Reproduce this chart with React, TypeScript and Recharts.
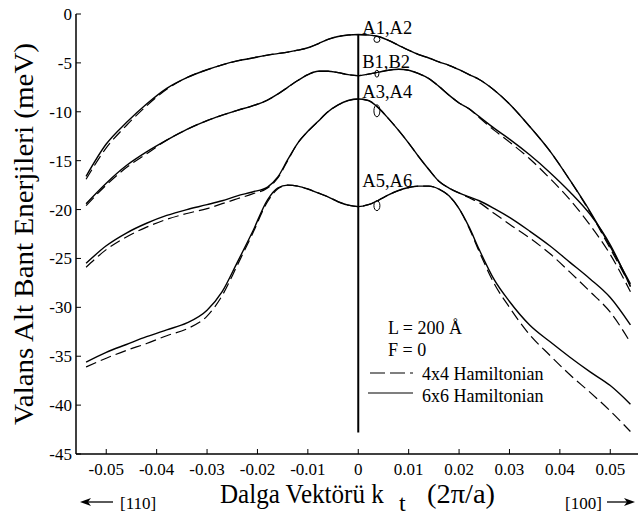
import React from 'react';
import { LineChart, Line, XAxis, YAxis, ReferenceLine, ReferenceDot, Legend } from 'recharts';

const FONT = '"Liberation Serif", "Times New Roman", serif';

// wave vector k_t (2π/a)
const kValues = [-0.054, -0.05, -0.046, -0.042, -0.038, -0.034, -0.03, -0.027, -0.024, -0.021, -0.018, -0.016, -0.014, -0.012, -0.01, -0.008, -0.006, -0.004, -0.002, 0, 0.002, 0.004, 0.006, 0.008, 0.01, 0.012, 0.014, 0.016, 0.018, 0.02, 0.022, 0.024, 0.027, 0.03, 0.034, 0.038, 0.042, 0.046, 0.05, 0.054];

// valence subband energies (meV)
const a12_6x6 = [-16.6, -13.3, -11.1, -9.2, -7.6, -6.5, -5.7, -5.2, -4.8, -4.5, -4.2, -4.05, -3.9, -3.7, -3.45, -3.05, -2.6, -2.3, -2.15, -2.1, -2.15, -2.3, -2.7, -3.2, -3.7, -4.15, -4.5, -4.9, -5.25, -5.7, -6.2, -6.7, -7.8, -9.2, -11.5, -14.0, -17.0, -20.2, -23.8, -27.6];
const a12_4x4 = [-16.9, -13.7, -11.4, -9.4, -7.7, -6.5, -5.7, -5.2, -4.8, -4.5, -4.2, -4.05, -3.9, -3.7, -3.45, -3.05, -2.6, -2.3, -2.15, -2.1, -2.15, -2.3, -2.7, -3.2, -3.7, -4.15, -4.5, -4.9, -5.25, -5.7, -6.2, -6.7, -7.8, -9.2, -11.5, -14.0, -17.0, -20.3, -24.0, -27.8];
const b12_6x6 = [-19.4, -17.3, -15.5, -14.1, -12.9, -11.8, -10.9, -10.35, -9.85, -9.4, -8.8, -8.2, -7.5, -6.8, -6.2, -5.85, -5.85, -6.0, -6.2, -6.3, -6.15, -5.95, -5.75, -5.65, -5.75, -6.1, -6.6, -7.4, -8.3, -9.1, -9.7, -10.5, -11.7, -12.8, -14.4, -16.2, -18.2, -20.5, -23.6, -27.9];
const b12_4x4 = [-19.6, -17.5, -15.7, -14.3, -12.9, -11.8, -10.9, -10.35, -9.85, -9.4, -8.8, -8.2, -7.5, -6.8, -6.2, -5.85, -5.85, -6.0, -6.2, -6.3, -6.15, -5.95, -5.75, -5.65, -5.75, -6.1, -6.6, -7.4, -8.3, -9.1, -9.7, -10.6, -11.9, -13.1, -14.8, -16.8, -19.0, -21.6, -24.6, -28.4];
const a34_6x6 = [-25.5, -23.7, -22.4, -21.4, -20.6, -20.0, -19.5, -19.1, -18.6, -18.2, -17.7, -16.7, -14.9, -13.2, -12.0, -11.0, -10.0, -9.3, -8.85, -8.7, -8.85, -9.6, -10.7, -11.9, -13.2, -14.6, -15.9, -17.1, -17.8, -18.3, -18.7, -19.1, -19.9, -20.8, -22.2, -23.7, -25.4, -27.1, -29.0, -31.8];
const a34_4x4 = [-25.9, -24.1, -22.8, -21.8, -21.0, -20.4, -19.9, -19.4, -18.9, -18.4, -17.8, -16.8, -15.0, -13.2, -12.0, -11.0, -10.0, -9.3, -8.85, -8.7, -8.85, -9.6, -10.7, -11.9, -13.2, -14.6, -15.9, -17.1, -17.8, -18.3, -18.8, -19.3, -20.4, -21.5, -22.9, -24.5, -26.4, -28.4, -30.5, -33.6];
const a56_6x6 = [-35.6, -34.6, -33.8, -33.0, -32.3, -31.6, -30.3, -28.4, -25.4, -22.3, -19.0, -17.8, -17.5, -17.6, -17.9, -18.3, -18.7, -19.2, -19.55, -19.7, -19.5, -19.05, -18.5, -18.05, -17.75, -17.6, -17.6, -17.9, -18.6, -19.9, -21.8, -24.1, -27.2, -29.4, -31.8, -33.5, -35.1, -36.6, -38.0, -39.9];
const a56_4x4 = [-36.1, -35.2, -34.4, -33.7, -32.9, -32.2, -30.9, -28.8, -25.7, -22.5, -19.2, -17.9, -17.5, -17.6, -17.9, -18.3, -18.7, -19.2, -19.55, -19.7, -19.5, -19.05, -18.5, -18.05, -17.75, -17.6, -17.6, -17.9, -18.6, -19.9, -21.9, -24.3, -27.6, -30.0, -32.8, -34.9, -36.9, -38.7, -40.6, -42.7];

const xTicks = [-0.05, -0.04, -0.03, -0.02, -0.01, 0, 0.01, 0.02, 0.03, 0.04, 0.05];
const yTicks = [0, -5, -10, -15, -20, -25, -30, -35, -40, -45];

// band labels and the small "0" marks beside them
const bandLabels = ['A1,A2', 'B1,B2', 'A3,A4', 'A5,A6'];
const labelK = 0.0008;
const labelE = [-2.05, -5.5, -8.6, -17.7];
const markK = 0.0037;
const markE = [-2.6, -6.1, -9.9, -19.6];
const markRy = [3, 3.5, 6, 5];
const markRx = [3, 2, 3, 3];

// the vertical line at k = 0
const zeroLine = [-2.1, -42.8];

const legendLines = ['L = 200 Å', 'F = 0', '4x4 Hamiltonian', '6x6 Hamiltonian'];

const data = kValues.map((k, i) => ({
  k,
  a12s: a12_6x6[i], a12d: a12_4x4[i],
  b12s: b12_6x6[i], b12d: b12_4x4[i],
  a34s: a34_6x6[i], a34d: a34_4x4[i],
  a56s: a56_6x6[i], a56d: a56_4x4[i],
}));

const solidKeys = ['a12s', 'b12s', 'a34s', 'a56s'];
const dashedKeys = ['a12d', 'b12d', 'a34d', 'a56d'];

const YLabel = (props: any) => {
  const cx = 33;
  const vb = props.viewBox || { y: 14, height: 440 };
  const cy = vb.y + vb.height / 2;
  return (
    <text x={cx} y={cy} transform={`rotate(-90 ${cx} ${cy})`} textAnchor="middle"
      fontFamily={FONT} fontSize={28} fill="#000" textLength={382} lengthAdjust="spacingAndGlyphs">
      Valans Alt Bant Enerjileri (meV)
    </text>
  );
};

const XLabel = (props: any) => {
  const vb = props.viewBox || { x: 76, y: 454, width: 562, height: 64 };
  const left = vb.x;
  const right = vb.x + vb.width;
  const sx = left + 144;
  const sc = 0.895;
  return (
    <g>
      <text x={sx} y={503} transform={`matrix(${sc} 0 0 1 ${sx * (1 - sc)} 0)`}
        fontFamily={FONT} fontSize={28} fill="#000">Dalga Vektörü k</text>
      <text x={left + 323} y={511} fontFamily={FONT} fontSize={24} fill="#000">t</text>
      <text x={left + 351} y={503} fontFamily={FONT} fontSize={28} fill="#000"
        textLength={68} lengthAdjust="spacingAndGlyphs">(2π/a)</text>
      <line x1={left + 8} y1={502} x2={left + 37} y2={502} stroke="#000" strokeWidth={1.3} />
      <path d={`M${left + 4},502 L${left + 15},498 L${left + 12},502 L${left + 15},506 Z`} fill="#000" />
      <text x={left + 44} y={509} fontFamily={FONT} fontSize={17} fill="#000">[110]</text>
      <text x={right - 73} y={509} fontFamily={FONT} fontSize={17} fill="#000">[100]</text>
      <line x1={right - 31} y1={502} x2={right - 7} y2={502} stroke="#000" strokeWidth={1.3} />
      <path d={`M${right - 3},502 L${right - 14},498 L${right - 11},502 L${right - 14},506 Z`} fill="#000" />
    </g>
  );
};

const LegendBox = () => (
  <svg width={200} height={100} style={{ display: 'block', overflow: 'visible' }}>
    <text x={28} y={24} fontFamily={FONT} fontSize={18} fill="#000">{legendLines[0]}</text>
    <text x={28} y={46} fontFamily={FONT} fontSize={18} fill="#000">{legendLines[1]}</text>
    <line x1={10} y1={63} x2={53} y2={63} stroke="#000" strokeWidth={1.2} strokeDasharray="15 5" />
    <text x={62} y={70} fontFamily={FONT} fontSize={18} fill="#000">{legendLines[2]}</text>
    <line x1={8} y1={83} x2={53} y2={83} stroke="#000" strokeWidth={1.2} />
    <text x={62} y={92} fontFamily={FONT} fontSize={18} fill="#000">{legendLines[3]}</text>
  </svg>
);

const tickStyle = { fontFamily: FONT, fontSize: 17, fill: '#000' };

export default function App() {
  return (
    <div style={{ position: 'absolute', left: 0, top: 0, background: '#fff' }}>
      <LineChart width={642} height={518} data={data}
        margin={{ top: 14, right: 4, bottom: 0, left: 0 }} style={{ fontFamily: FONT }}>
        <XAxis dataKey="k" type="number" domain={[-0.056, 0.0555]} ticks={xTicks}
          allowDataOverflow height={64} tickSize={-5} tickMargin={14}
          axisLine={{ stroke: '#000', strokeWidth: 1.5 }} tickLine={{ stroke: '#000', strokeWidth: 1 }}
          tick={tickStyle} interval={0} label={{ content: <XLabel /> }} />
        <XAxis xAxisId="top" orientation="top" dataKey="k" type="number" domain={[-0.056, 0.0555]}
          ticks={xTicks} allowDataOverflow height={0} tickSize={-5} tickFormatter={() => ''}
          axisLine={{ stroke: '#000', strokeWidth: 1.5 }} tickLine={{ stroke: '#000', strokeWidth: 1 }} interval={0} />
        <YAxis type="number" domain={[-45, 0]} ticks={yTicks} allowDataOverflow width={76}
          tickSize={-5} tickMargin={9} interval={0}
          axisLine={{ stroke: '#000', strokeWidth: 1.5 }} tickLine={{ stroke: '#000', strokeWidth: 1 }}
          tick={tickStyle} label={{ content: <YLabel /> }} />
        <YAxis yAxisId="right" orientation="right" type="number" domain={[-45, 0]} ticks={yTicks}
          allowDataOverflow width={0} tickSize={-5} tickFormatter={() => ''} interval={0}
          axisLine={{ stroke: '#000', strokeWidth: 1.5 }} tickLine={{ stroke: '#000', strokeWidth: 1 }} />
        {dashedKeys.map((key) => (
          <Line key={key} dataKey={key} type="monotone" stroke="#000" strokeWidth={1.2}
            strokeDasharray="11 5" dot={false} activeDot={false} isAnimationActive={false} legendType="none" />
        ))}
        {solidKeys.map((key) => (
          <Line key={key} dataKey={key} type="monotone" stroke="#000" strokeWidth={1.4}
            dot={false} activeDot={false} isAnimationActive={false} legendType="none" />
        ))}
        <ReferenceLine segment={[{ x: 0, y: zeroLine[0] }, { x: 0, y: zeroLine[1] }]}
          stroke="#000" strokeWidth={2} />
        {bandLabels.map((lab, i) => (
          <ReferenceDot key={lab} x={labelK} y={labelE[i]} r={0}
            shape={(p: any) => (
              <text x={p.cx} y={p.cy} fontFamily={FONT} fontSize={18.5} fill="#000">{lab}</text>
            )} />
        ))}
        {markE.map((e, i) => (
          <ReferenceDot key={'m' + i} x={markK} y={e} r={0}
            shape={(p: any) => (
              <ellipse cx={p.cx} cy={p.cy} rx={markRx[i]} ry={markRy[i]} fill="none" stroke="#000" strokeWidth={1} />
            )} />
        ))}
        <Legend layout="vertical" align="center" verticalAlign="middle"
          wrapperStyle={{ position: 'absolute', left: 360, top: 310, width: 200, height: 100 }}
          content={() => <LegendBox />} />
      </LineChart>
    </div>
  );
}
